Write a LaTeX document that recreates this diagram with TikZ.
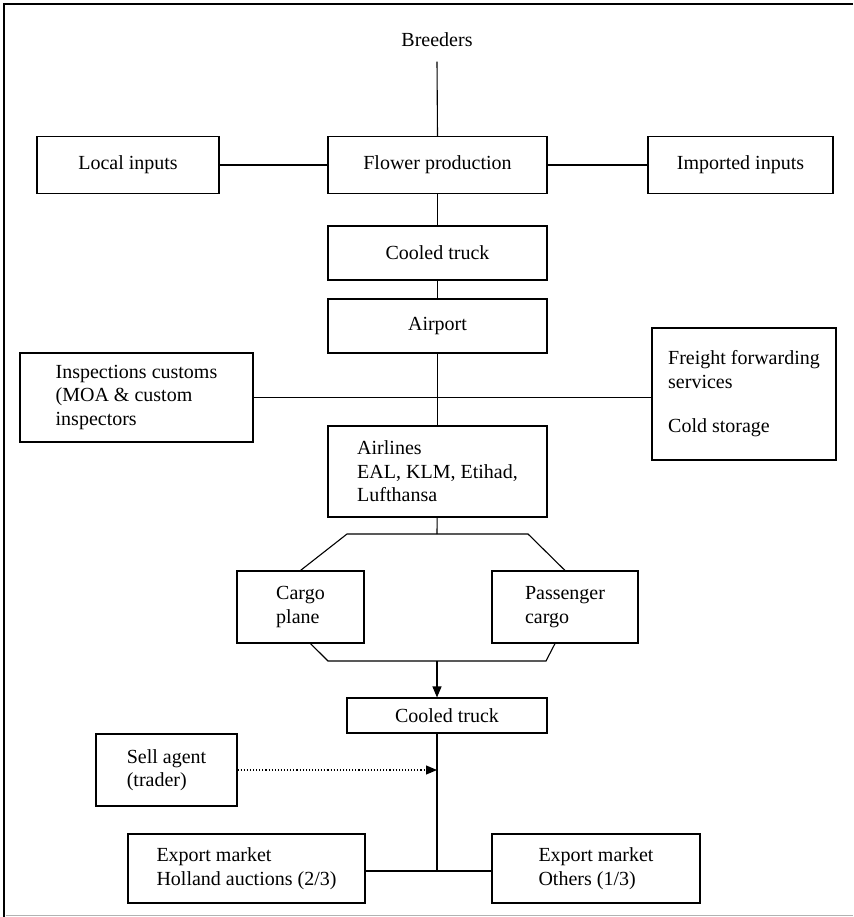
\documentclass[tikz,border=0pt]{standalone}
\usepackage{fontspec}
\setmainfont{Liberation Serif}
\usetikzlibrary{arrows.meta,positioning}

\begin{document}
\begin{tikzpicture}[x=1pt,y=-1pt,line width=1.1pt,
  flowbox/.style={draw,align=left,inner sep=4pt,font=\fontsize{20}{23.5}\selectfont},
  arrowtip/.style={-{Triangle[length=11pt,width=9pt]}}]
\useasboundingbox (0,0) rectangle (853,917);
% page frame
\draw[line width=2.6pt] (4,917) -- (4,4) -- (853,4);
\draw[black!30,line width=1.2pt] (6,915.5) -- (853,915.5);

\node[font=\fontsize{20}{23.5}\selectfont,inner ysep=14pt] (breeders) at (437,40) {Breeders};

% top row
\node[flowbox,minimum width=182pt,minimum height=57pt] (localIn) at (128,165) {Local inputs};
\node[flowbox,minimum width=219pt,minimum height=57pt] (flowerProd) at (437.5,165) {Flower production};
\node[flowbox,minimum width=185pt,minimum height=57pt] (importIn) at (740.5,165) {Imported inputs};

\node[flowbox,minimum width=219pt,minimum height=54pt] (truckOne) at (437.5,253) {Cooled truck};
\node[flowbox,minimum width=219pt,minimum height=54pt] (airport) at (437.5,326) {Airport};

% inspection and services
\node[flowbox,minimum width=233pt,minimum height=89pt] (inspect) at (136.5,397.5)
  {Inspections customs\\(MOA \& custom\\inspectors};
\node[flowbox,minimum width=184pt,minimum height=132pt] (freight) at (744,394)
  {Freight forwarding\\services\\[21pt]Cold storage};

\node[flowbox,minimum width=219pt,minimum height=91pt] (airlines) at (437.5,471.5)
  {Airlines\\EAL, KLM, Etihad,\\Lufthansa};

% planes
\node[flowbox,minimum width=127pt,minimum height=72pt] (cargo) at (300.5,607) {Cargo\\plane};
\node[flowbox,minimum width=146pt,minimum height=72pt] (passenger) at (565,607) {Passenger\\cargo};

\node[flowbox,minimum width=200pt,minimum height=35pt] (truckTwo) at (447,715.5) {Cooled truck};
\node[flowbox,minimum width=141pt,minimum height=72pt] (sellAgent) at (166.5,770) {Sell agent\\(trader)};

% markets
\node[flowbox,minimum width=237pt,minimum height=69pt] (exportHo) at (246.5,868.5)
  {Export market\\Holland auctions (2/3)};
\node[flowbox,minimum width=208pt,minimum height=69pt] (exportOt) at (596,868.5)
  {Export market\\Others (1/3)};

\coordinate (octTop) at (437,534);
\coordinate (octBot) at (437,661);
\coordinate (joinPt) at (437,871);

\draw (breeders.south) -- (flowerProd.north);
\draw (localIn) -- (flowerProd) -- (importIn);
\draw (flowerProd) -- (truckOne);
\draw (truckOne) -- (airport);
\draw (airport) -- (airlines);
\draw (inspect.east) -- (inspect.east -| freight.west);
\draw (airlines) -- (octTop);
\draw (cargo.north) -- (347,534) -- (528,534) -- (passenger.north);
\draw ([xshift=10pt]cargo.south) -- (328,661) -- (546,661) -- ([xshift=-10pt]passenger.south);
\draw[arrowtip] (octBot) -- (octBot |- truckTwo.north);
\draw (truckTwo.south -| joinPt) -- (joinPt);
\draw[arrowtip,dotted] (sellAgent.east) -- (sellAgent.east -| joinPt);
\draw (exportHo.east |- joinPt) -- (exportOt.west |- joinPt);
\end{tikzpicture}
\end{document}
